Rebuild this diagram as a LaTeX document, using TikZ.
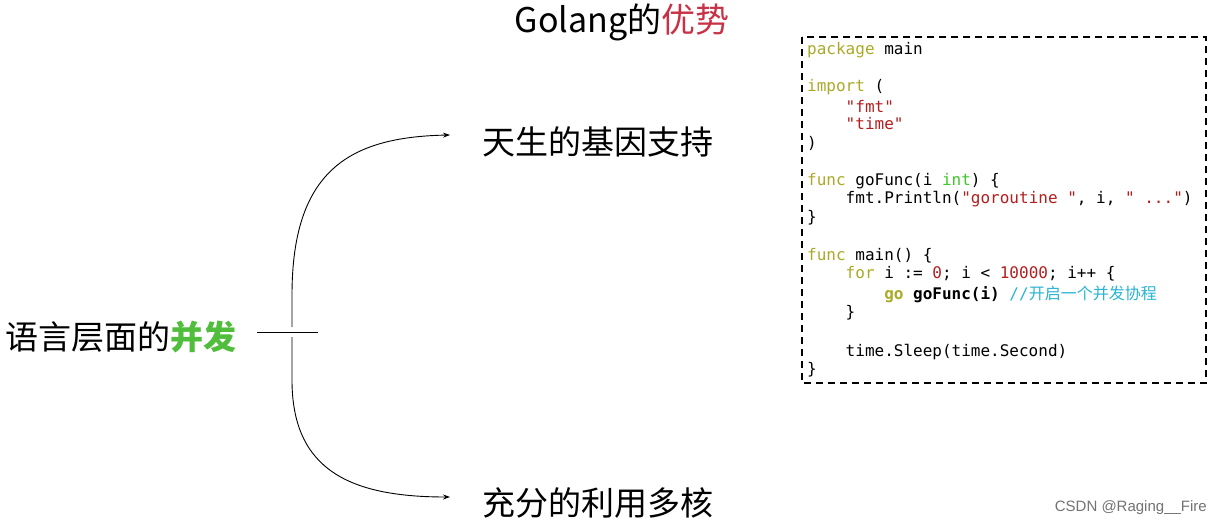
\documentclass[tikz,border=0pt]{standalone}
\usepackage{fontspec}
\setmonofont{DejaVu Sans Mono}
\setsansfont{Liberation Sans}
\newfontfamily\cjk{Noto Sans CJK SC}
\usetikzlibrary{arrows.meta}
\definecolor{kw}{RGB}{170,170,40}
\definecolor{str}{RGB}{180,30,30}
\definecolor{typ}{RGB}{60,200,40}
\definecolor{cmt}{RGB}{40,180,210}
\definecolor{grn}{RGB}{80,190,60}
\definecolor{ttl}{RGB}{200,50,70}
\begin{document}
\begin{tikzpicture}[x=1pt,y=-1pt,
  big/.style={font=\cjk\fontsize{33}{33}\selectfont, inner sep=0pt},
  code/.style={anchor=west, inner sep=0pt, font=\ttfamily\fontsize{16}{16}\selectfont},
  conn/.style={line width=0.9pt, -{Stealth[length=7pt,width=5pt]}}]
\useasboundingbox[fill=white] (0,0) rectangle (1221,527);
\node[font=\cjk\itshape\fontsize{34}{34}\selectfont, inner sep=0pt] (title) at (622,22) {Golang的\textcolor{ttl}{优势}};
\node[big, anchor=west] (src) at (5,337) {语言层面的\textcolor{grn}{\bfseries 并发}};
\node[big, anchor=west] (a) at (482,142) {天生的基因支持};
\node[big, anchor=west] (b) at (482,503) {充分的利用多核};
\coordinate (h1) at (257,332); \coordinate (h2) at (318,332);
\draw[line width=0.9pt] (h1) -- (h2);
\coordinate (u0) at (292,327); \coordinate (d0) at (292,337);
\coordinate (ua) at (450,135); \coordinate (db) at (450,497);
\draw[conn] (u0) -- (292,295) .. controls (292,170) and (350,137) .. (ua);
\draw[conn] (d0) -- (292,380) .. controls (292,470) and (350,497) .. (db);
\draw[dashed, line width=1.2pt, dash pattern=on 7pt off 5pt] (802,37) rectangle (1206,383);
\foreach \y/\t in {
 50/{\textcolor{kw}{package}~main},
 87/{\textcolor{kw}{import}~(},
 106/{~~~~\textcolor{str}{"fmt"}},
 124/{~~~~\textcolor{str}{"time"}},
 143/{)},
 181/{\textcolor{kw}{func}~goFunc(i~\textcolor{typ}{int})~\{},
 199/{~~~~fmt.Println(\textcolor{str}{"goroutine~"},~i,~\textcolor{str}{"~..."})},
 218/{\}},
 256/{\textcolor{kw}{func}~main()~\{},
 274/{~~~~\textcolor{kw}{for}~i~:=~\textcolor{str}{0};~i~<~\textcolor{str}{10000};~i++~\{},
 294/{~~~~~~~~\textcolor{kw}{\bfseries go}~\textbf{goFunc(i)}~\textcolor{cmt}{//{\cjk 开启一个并发协程}}},
 313/{~~~~\}},
 352/{~~~~time.Sleep(time.Second)},
 370/{\}}}
 \node[code] at (807,\y) {\t};
\node[font=\sffamily\fontsize{15}{15}\selectfont, text=black!55, anchor=east, inner sep=0pt] (wm) at (1207,508) {CSDN @Raging\_\_Fire};
\end{tikzpicture}
\end{document}
